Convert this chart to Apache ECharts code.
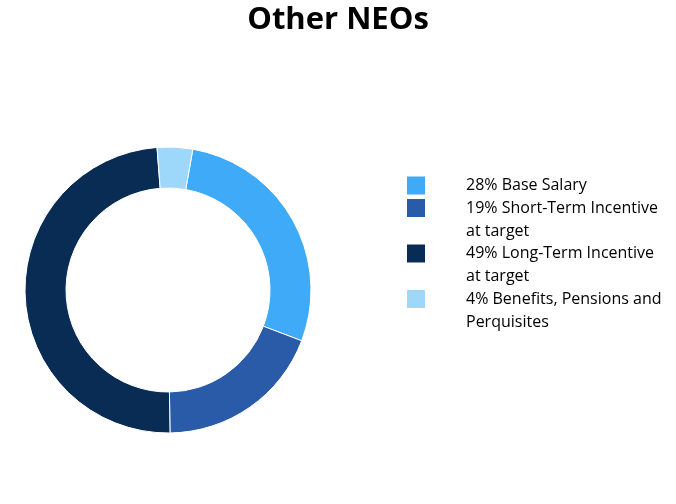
<!DOCTYPE html>
<html>
<head>
<meta charset="utf-8">
<script src="https://cdn.jsdelivr.net/npm/echarts@6/dist/echarts.min.js"></script>
<style>
  html, body { margin: 0; padding: 0; background: #fff; }
  #chart { width: 676px; height: 504px; }
</style>
</head>
<body>
<div id="chart"></div>
<script>
const names = ['Base Salary', 'Short-Term Incentive at target', 'Long-Term Incentive at target', 'Benefits, Pensions and Perquisites'];
const shares = [28, 19, 49, 4];
const legendLabels = ['28% Base Salary', '19% Short-Term Incentive\nat target', '49% Long-Term Incentive\nat target', '4% Benefits, Pensions and\nPerquisites'];
const colors = ['#3eaaf8', '#2a5ba9', '#082c54', '#9dd8fb'];

const chart = echarts.init(document.getElementById('chart'));

chart.setOption({
  title: {
    text: 'Other NEOs',
    left: 'center',
    top: 0,
    textStyle: {
      fontFamily: 'Open Sans',
      fontWeight: 'bold',
      fontSize: 31,
      color: '#000'
    }
  },
  legend: {
    orient: 'vertical',
    left: 407,
    top: 173.5,
    padding: 0,
    itemWidth: 18,
    itemHeight: 18,
    itemGap: -23.5,
    icon: 'rect',
    selectedMode: false,
    itemStyle: { borderWidth: 0 },
    data: names,
    formatter: function (name) {
      const label = legendLabels[names.indexOf(name)];
      // leading blank line keeps the first text line level with the square
      return label.indexOf('\n') >= 0 ? '\n' + label : label;
    },
    textStyle: {
      fontFamily: 'Open Sans',
      fontSize: 16,
      lineHeight: 23,
      color: '#000',
      padding: [0, 0, 0, 36]
    }
  },
  series: [{
    type: 'pie',
    center: [168, 290],
    radius: [102, 143],
    startAngle: 80,
    clockwise: true,
    label: { show: false },
    labelLine: { show: false },
    emphasis: { disabled: true },
    itemStyle: { borderColor: '#fff', borderWidth: 1 },
    data: names.map((n, i) => ({
      name: n,
      value: shares[i],
      itemStyle: { color: colors[i] }
    }))
  }]
});
</script>
</body>
</html>
